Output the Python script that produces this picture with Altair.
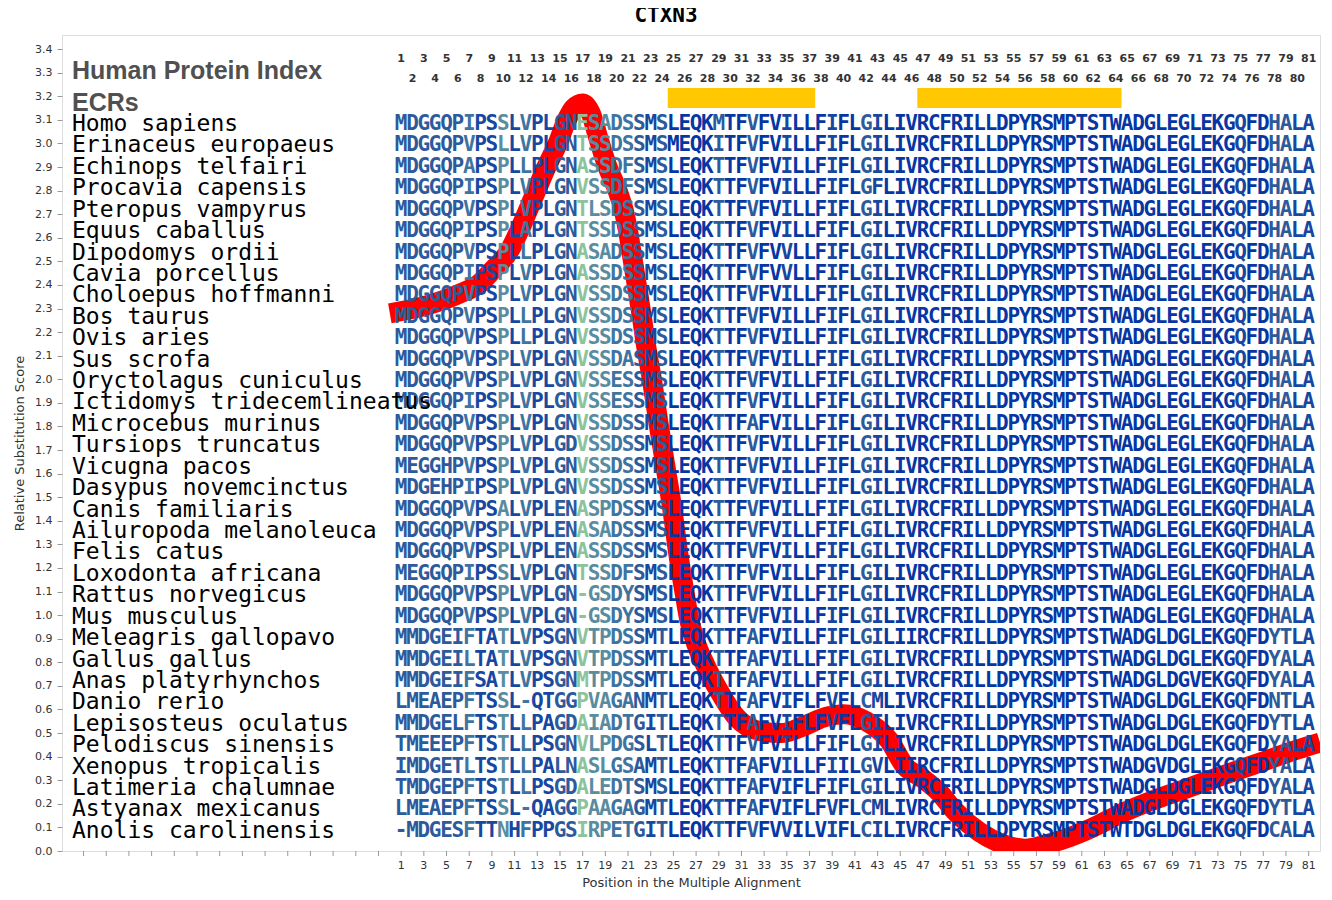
import altair as alt
import pandas as pd

species = [
    "Homo sapiens", "Erinaceus europaeus", "Echinops telfairi", "Procavia capensis",
    "Pteropus vampyrus", "Equus caballus", "Dipodomys ordii", "Cavia porcellus",
    "Choloepus hoffmanni", "Bos taurus", "Ovis aries", "Sus scrofa",
    "Oryctolagus cuniculus", "Ictidomys tridecemlineatus", "Microcebus murinus",
    "Tursiops truncatus", "Vicugna pacos", "Dasypus novemcinctus", "Canis familiaris",
    "Ailuropoda melanoleuca", "Felis catus", "Loxodonta africana", "Rattus norvegicus",
    "Mus musculus", "Meleagris gallopavo", "Gallus gallus", "Anas platyrhynchos",
    "Danio rerio", "Lepisosteus oculatus", "Pelodiscus sinensis", "Xenopus tropicalis",
    "Latimeria chalumnae", "Astyanax mexicanus", "Anolis carolinensis",
]

sequences = [
    "MDGGQPIPSSLVPLGNESADSSMSLEQKMTFVFVILLFIFLGILIVRCFRILLDPYRSMPTSTWADGLEGLEKGQFDHALA",
    "MDGGQPVPSLLVPLGNTSSDSSMSMEQKITFVFVILLFIFLGILIVRCFRILLDPYRSMPTSTWADGLEGLEKGQFDHALA",
    "MDGGQPAPSPLLPLGNASSDFSMSLEQKTTFVFVILLFIFLGILIVRCFRILLDPYRSMPTSTWADGLEGLEKGQFDHALA",
    "MDGGQPIPSPLVPLGNVSSDFSMSLEQKTTFVFVILLFIFLGFLIVRCFRILLDPYRSMPTSTWADGLEGLEKGQFDHALA",
    "MDGGQPVPSPLVPLGNTLSDSSMSLEQKTTFVFVILLFIFLGILIVRCFRILLDPYRSMPTSTWADGLEGLEKGQFDHALA",
    "MDGGQPIPSPLAPLGNTSSDSSMSLEQKTTFVFVILLFIFLGILIVRCFRILLDPYRSMPTSTWADGLEGLEKGQFDHALA",
    "MDGGQPVPSPLLPLGNASADSSMSLEQKTTFVFVVLLFIFLGILIVRCFRILLDPYRSMPTSTWADGLEGLEKGQFDHALA",
    "MDGGQPIPSPLVPLGNASSDSSMSLEQKTTFVFVVLLFIFLGILIVRCFRILLDPYRSMPTSTWADGLEGLEKGQFDHALA",
    "MDGGQPVPSPLVPLGNVSSDSSMSLEQKTTFVFVILLFIFLGILIVRCFRILLDPYRSMPTSTWADGLEGLEKGQFDHALA",
    "MDGGQPVPSPLLPLGNVSSDSSMSLEQKTTFVFVILLFIFLGILIVRCFRILLDPYRSMPTSTWADGLEGLEKGQFDHALA",
    "MDGGQPVPSPLLPLGNVSSDSSMSLEQKTTFVFVILLFIFLGILIVRCFRILLDPYRSMPTSTWADGLEGLEKGQFDHALA",
    "MDGGQPVPSPLVPLGNVSSDASMSLEQKTTFVFVILLFIFLGILIVRCFRILLDPYRSMPTSTWADGLEGLEKGQFDHALA",
    "MDGGQPVPSPLVPLGNVSSESSMSLEQKTTFVFVILLFIFLGILIVRCFRILLDPYRSMPTSTWADGLEGLEKGQFDHALA",
    "MDGGQPIPSPLVPLGNVSSESSMSLEQKTTFVFVILLFIFLGILIVRCFRILLDPYRSMPTSTWADGLEGLEKGQFDHALA",
    "MDGGQPVPSPLVPLGNVSSDSSMSLEQKTTFAFVILLFIFLGILIVRCFRILLDPYRSMPTSTWADGLEGLEKGQFDHALA",
    "MDGGQPVPSPLVPLGDVSSDSSMSLEQKTTFVFVILLFIFLGILIVRCFRILLDPYRSMPTSTWADGLEGLEKGQFDHALA",
    "MEGGHPVPSPLVPLGNVSSDSSMSLEQKTTFVFVILLFIFLGILIVRCFRILLDPYRSMPTSTWADGLEGLEKGQFDHALA",
    "MDGEHPIPSPLVPLGNVSSDSSMSLEQKTTFVFVILLFIFLGILIVRCFRILLDPYRSMPTSTWADGLEGLEKGQFDHALA",
    "MDGGQPVPSALVPLENASPDSSMSLEQKTTFVFVILLFIFLGILIVRCFRILLDPYRSMPTSTWADGLEGLEKGQFDHALA",
    "MDGGQPVPSPLVPLENASADSSMSLEQKTTFVFVILLFIFLGILIVRCFRILLDPYRSMPTSTWADGLEGLEKGQFDHALA",
    "MDGGQPVPSPLVPLENASSDSSMSLEQKTTFVFVILLFIFLGILIVRCFRILLDPYRSMPTSTWADGLEGLEKGQFDHALA",
    "MEGGQPIPSSLVPLGNTSSDFSMSLEQKTTFVFVILLFIFLGILIVRCFRILLDPYRSMPTSTWADGLEGLEKGQFDHALA",
    "MDGGQPVPSPLVPLGN-GSDYSMSLEQKTTFVFVILLFIFLGILIVRCFRILLDPYRSMPTSTWADGLEGLEKGQFDHALA",
    "MDGGQPVPSPLVPLGN-GSDYSMSLEQKTTFVFVILLFIFLGILIVRCFRILLDPYRSMPTSTWADGLEGLEKGQFDHALA",
    "MMDGEIFTATLVPSGNVTPDSSMTLEQKTTFAFVILLFIFLGILIIRCFRILLDPYRSMPTSTWADGLDGLEKGQFDYTLA",
    "MMDGEILTATLVPSGNVTPDSSMTLEQKTTFAFVILLFIFLGILIVRCFRILLDPYRSMPTSTWADGLDGLEKGQFDYALA",
    "MMDGEIFSATLVPSGNMTPDSSMTLEQKTTFAFVILLFIFLGILIVRCFRILLDPYRSMPTSTWADGLDGVEKGQFDYALA",
    "LMEAEPFTSSL-QTGGPVAGANMTLEQKTTFAFVIFLFVFLCMLIVRCFRILLDPYRSMPTSTWADGLDGLEKGQFDNTLA",
    "MMDGELFTSTLLPAGDAIADTGITLEQKTTFAFVIFLFVFLGILIVRCFRILLDPYRSMPTSTWADGLDGLEKGQFDYTLA",
    "TMEEEPFTSTLLPSGNVLPDGSLTLEQKTTFVFVILLFIFLGILIVRCFRILLDPYRSMPTSTWADGLDGLEKGQFDYALA",
    "IMDGETLTSTLLPALNASLGSAMTLEQKTTFAFVILLFIILGVLIIRCFRILLDPYRSMPTSTWADGVDGLEKGQFDYALA",
    "TMDGEPFTSTLLPSGDALEDTSMSLEQKTTFAFVIFLFIFLGILIVRCFRILLDPYRSMPTSTWADGLDGLEKGQFDYALA",
    "LMEAEPFTSSL-QAGGPAAGAGMTLEQKTTFAFVIFLFVFLCMLIVRCFRILLDPYRSMPTSTWADGLDGLEKGQFDYTLA",
    "-MDGESFTTNHFPPGSIRPETGITLEQKTTFVFVVILVIFLCILIVRCFRILLDPYRSMPTSTWTDGLDGLEKGQFDCALA",
]

# conservation level of each alignment column (0 = most conserved, 5 = least)
column_level = [
    2, 2, 2, 2, 2, 2, 3, 1, 1, 4,
    1, 3, 1, 1, 2, 2, 5, 4, 4, 3,
    3, 2, 1, 2, 0, 0, 0, 0, 2, 0,
    0, 2, 0, 0, 1, 0, 0, 0, 1, 0,
    0, 2, 1, 0, 0, 0, 0, 0, 0, 0,
    0, 0, 0, 0, 0, 0, 0, 0, 0, 0,
    0, 0, 0, 0, 0, 0, 0, 0, 0, 0,
    0, 0, 0, 0, 1, 0, 0, 2, 2, 1,
    1,
]
level_colors = ["#0636a3", "#1747a0", "#2d5a9b", "#3f74a0", "#5a8ca0", "#8cc39b"]

# relative substitution score curve
curve_pos = [0, 3, 6, 8, 9, 10.6, 11.5, 12.3, 13, 13.8, 14.8, 15.6, 16.2, 17.0, 17.7,
             18.4, 19.2, 20, 20.6, 21, 21.3, 21.6, 21.9, 22.2, 22.5, 23.1, 23.7, 24.3,
             24.9, 25.4, 26, 26.4, 27, 27.8, 29, 30.5, 32.5, 34.5, 36.5, 38.5, 40,
             42, 44, 45.4, 46.9, 48.4, 49.8, 52, 54, 56, 58, 60, 62, 64.5, 67, 70.5,
             74, 77, 80, 82]
curve_score = [2.28, 2.31, 2.36, 2.41, 2.46, 2.55, 2.64, 2.73, 2.81, 2.90, 3.00, 3.10,
               3.15, 3.17, 3.13, 3.02, 2.90, 2.81, 2.72, 2.63, 2.54, 2.45, 2.36, 2.27,
               2.17, 2.00, 1.81, 1.63, 1.45, 1.27, 1.09, 0.98, 0.88, 0.79, 0.68, 0.57,
               0.51, 0.50, 0.53, 0.57, 0.58, 0.55, 0.47, 0.36, 0.31, 0.25, 0.17, 0.08,
               0.03, 0.01, 0.03, 0.06, 0.10, 0.16, 0.21, 0.27, 0.33, 0.38, 0.43, 0.46]

ecr_start = [24.5, 46.5]
ecr_end = [37.5, 64.5]

positions = list(range(1, 82))
odd_positions = [p for p in positions if p % 2 == 1]
even_positions = [p for p in positions if p % 2 == 0]
x_tick_positions = list(range(-27, 82, 2))
y_ticks = [round(i * 0.1, 1) for i in range(35)]

# ---------- data frames ----------
letters = []
for r, seq in enumerate(sequences):
    for i, ch in enumerate(seq):
        letters.append({"row": r, "pos": i + 1, "ch": ch, "lvl": column_level[i]})
letters_df = pd.DataFrame(letters)
names_df = pd.DataFrame({"row": list(range(len(species))), "name": species})
curve_df = pd.DataFrame({"pos": curve_pos, "score": curve_score})
ecr_df = pd.DataFrame({"start": ecr_start, "end": ecr_end, "r1": [-1.68] * 2, "r2": [-0.75] * 2})
odd_df = pd.DataFrame({"pos": odd_positions, "row": [-3.03] * len(odd_positions)})
even_df = pd.DataFrame({"pos": even_positions, "row": [-2.1] * len(even_positions)})
head_df = pd.DataFrame({"label": ["Human Protein Index", "ECRs"], "row": [-2.47, -0.98]})
xt_df = pd.DataFrame({"pos": x_tick_positions})
xl_df = pd.DataFrame({"pos": odd_positions})

W, H = 1258, 816
x_scale = alt.Scale(domain=[-28.9, 82.0], nice=False, zero=False)
row_scale = alt.Scale(domain=[-4.155, 33.94], reverse=True, nice=False, zero=False)
y_scale = alt.Scale(domain=[0, 3.46], nice=False, zero=False)

x_axis = alt.Axis(values=odd_positions, title="Position in the Multiple Alignment",
                  grid=False, labels=False, ticks=False, titlePadding=25,
                  domain=False, titleFontSize=13, titleFontWeight="normal",
                  titleColor="#333", titleFont="DejaVu Sans")

ecr = alt.Chart(ecr_df).mark_rect(color="#FFC800").encode(
    x=alt.X("start:Q", scale=x_scale, axis=x_axis),
    x2="end:Q",
    y=alt.Y("r1:Q", scale=row_scale, axis=None),
    y2="r2:Q",
)

x_tick_marks = alt.Chart(xt_df).mark_rule(color="#999", strokeWidth=1).encode(
    x=alt.X("pos:Q", scale=x_scale),
    y=alt.value(H),
    y2=alt.value(H + 5),
)

x_tick_labels = alt.Chart(xl_df).mark_text(
    font="DejaVu Sans", fontSize=11, color="#333", baseline="top", align="center"
).encode(
    x=alt.X("pos:Q", scale=x_scale),
    y=alt.value(H + 9),
    text="pos:Q",
)

curve = alt.Chart(curve_df).mark_line(
    color="#FF0000", strokeWidth=20, interpolate="monotone", clip=True
).encode(
    x=alt.X("pos:Q", scale=x_scale),
    y=alt.Y("score:Q", scale=y_scale,
            axis=alt.Axis(values=y_ticks, format=".1f", title="Relative Substitution Score",
                          grid=False, labelFontSize=11, labelColor="#333", tickColor="#999",
                          labelPadding=5, titlePadding=8, labelOverlap=False,
                          domain=False, titleFontSize=13, titleFontWeight="normal",
                          titleColor="#333", labelFont="DejaVu Sans", titleFont="DejaVu Sans")),
)

text_letters = alt.Chart(letters_df).mark_text(
    font="DejaVu Sans Mono", fontWeight="bold", fontSize=21, baseline="middle", align="center"
).encode(
    x=alt.X("pos:Q", scale=x_scale),
    y=alt.Y("row:Q", scale=row_scale, axis=None),
    text="ch:N",
    color=alt.Color("lvl:O", scale=alt.Scale(domain=list(range(6)), range=level_colors), legend=None),
)

names = alt.Chart(names_df).mark_text(
    font="DejaVu Sans Mono", fontSize=23, baseline="middle", align="left", color="black"
).encode(
    x=alt.value(10),
    y=alt.Y("row:Q", scale=row_scale, axis=None),
    text="name:N",
)

heads = alt.Chart(head_df).mark_text(
    font="Liberation Sans", fontSize=25, fontWeight="bold", baseline="middle", align="left", color="#505050"
).encode(
    x=alt.value(10),
    y=alt.Y("row:Q", scale=row_scale, axis=None),
    text="label:N",
)

odd_nums = alt.Chart(odd_df).mark_text(
    font="DejaVu Sans", fontSize=11, fontWeight="bold", baseline="middle", align="center", color="#333"
).encode(
    x=alt.X("pos:Q", scale=x_scale),
    y=alt.Y("row:Q", scale=row_scale, axis=None),
    text="pos:Q",
)
even_nums = alt.Chart(even_df).mark_text(
    font="DejaVu Sans", fontSize=11, fontWeight="bold", baseline="middle", align="center", color="#333"
).encode(
    x=alt.X("pos:Q", scale=x_scale),
    y=alt.Y("row:Q", scale=row_scale, axis=None),
    text="pos:Q",
)

chart = alt.layer(
    ecr, x_tick_marks, x_tick_labels, curve, text_letters, names, heads, odd_nums, even_nums
).resolve_scale(y="independent").properties(
    width=W, height=H,
    title=alt.TitleParams(text="CTXN3", font="DejaVu Sans Mono", fontSize=21, fontWeight="bold",
                          color="black", anchor="middle", frame="group", dx=-25, offset=9),
    autosize=alt.AutoSizeParams(type="none"),
    padding={"left": 54, "top": 27, "right": 4, "bottom": 40},
).configure_view(stroke="#999", strokeWidth=1).configure(background="white")

chart.save("out.html", embed_options={"renderer": "svg", "actions": False})
